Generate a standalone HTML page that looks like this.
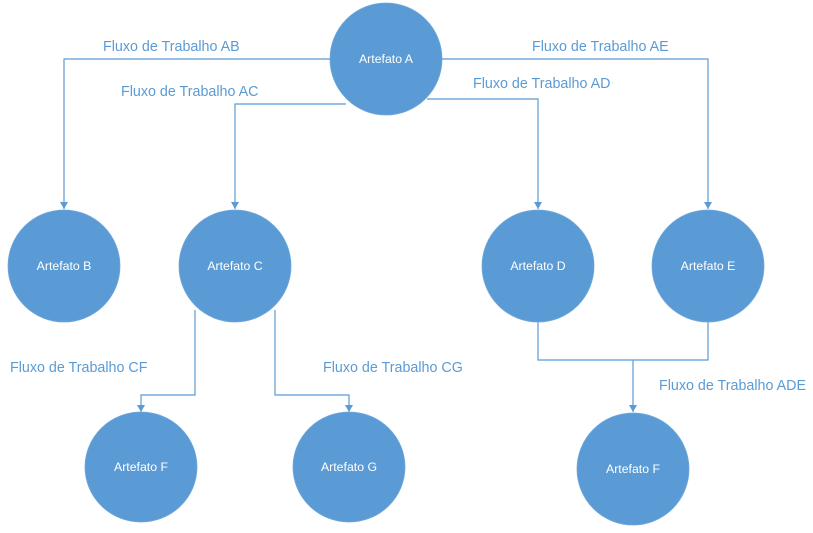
<!DOCTYPE html>
<html><head><meta charset="utf-8"><style>
html,body{margin:0;padding:0;background:#fff;}
svg{display:block;}
.l{font-family:"Liberation Sans",sans-serif;font-size:14.3px;fill:#5b9bd5;}
.n{font-family:"Liberation Sans",sans-serif;font-size:12.3px;fill:#fff;text-anchor:middle;}
</style></head><body>
<svg width="813" height="533" viewBox="0 0 813 533" xmlns="http://www.w3.org/2000/svg">
<defs>
<marker id="a" markerWidth="8" markerHeight="8" refX="7" refY="4" orient="auto" markerUnits="userSpaceOnUse">
<path d="M0,0 L7,4 L0,8 Z" fill="#5b9bd5"/>
</marker>
</defs>
<g fill="none" stroke="#5b9bd5" stroke-width="1.2">
<path d="M331,59 H64 V209" marker-end="url(#a)"/>
<path d="M441,59 H708 V209" marker-end="url(#a)"/>
<path d="M346,104 H235 V209" marker-end="url(#a)"/>
<path d="M427,99 H538 V209" marker-end="url(#a)"/>
<path d="M195,310 V395 H141 V412" marker-end="url(#a)"/>
<path d="M275,310 V395 H349 V412" marker-end="url(#a)"/>
<path d="M538,322 V360 H708 V322"/>
<path d="M633,360 V412" marker-end="url(#a)"/>
</g>
<g fill="#5b9bd5" stroke="#6fa7da" stroke-width="0.8">
<ellipse cx="386" cy="59" rx="56" ry="56"/>
<ellipse cx="64" cy="266" rx="56" ry="56"/>
<ellipse cx="235" cy="266" rx="56" ry="56"/>
<ellipse cx="538" cy="266" rx="56" ry="56"/>
<ellipse cx="708" cy="266" rx="56" ry="56"/>
<ellipse cx="141" cy="467" rx="56" ry="55"/>
<ellipse cx="349" cy="467" rx="56" ry="55"/>
<ellipse cx="633" cy="469" rx="56" ry="56"/>
</g>
<text class="n" x="386" y="63">Artefato A</text>
<text class="n" x="64" y="270">Artefato B</text>
<text class="n" x="235" y="270">Artefato C</text>
<text class="n" x="538" y="270">Artefato D</text>
<text class="n" x="708" y="270">Artefato E</text>
<text class="n" x="141" y="471">Artefato F</text>
<text class="n" x="349" y="471">Artefato G</text>
<text class="n" x="633" y="473">Artefato F</text>
<text class="l" x="103" y="51">Fluxo de Trabalho AB</text>
<text class="l" x="532" y="51">Fluxo de Trabalho AE</text>
<text class="l" x="121" y="96">Fluxo de Trabalho AC</text>
<text class="l" x="473" y="88">Fluxo de Trabalho AD</text>
<text class="l" x="10" y="372">Fluxo de Trabalho CF</text>
<text class="l" x="323" y="372">Fluxo de Trabalho CG</text>
<text class="l" x="659" y="390">Fluxo de Trabalho ADE</text>
</svg>
</body></html>
